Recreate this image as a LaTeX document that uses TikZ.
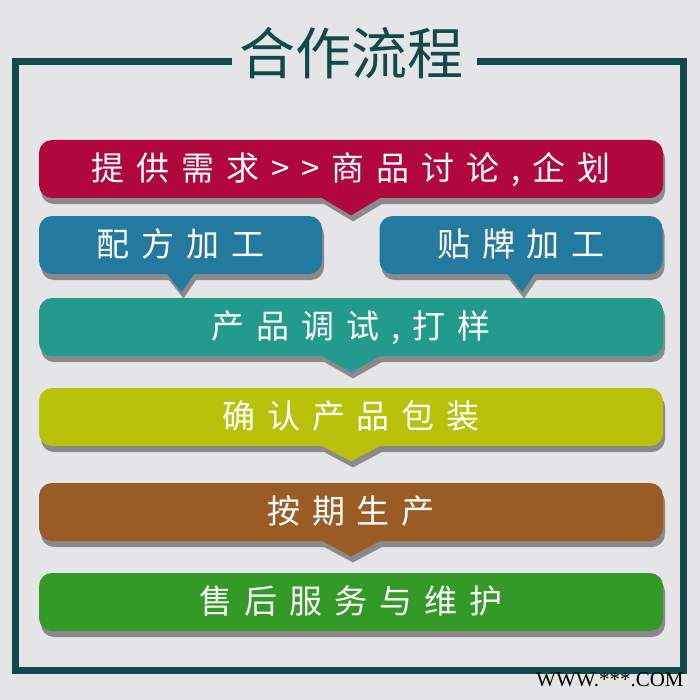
\documentclass[tikz,border=0pt]{standalone}
\usepackage{fontspec}
\setmainfont{Liberation Serif}
\newfontfamily\cjktitle{Noto Sans CJK SC}
\newfontfamily\cjkbox[LetterSpace=36]{Noto Sans CJK SC}
\usetikzlibrary{calc,shadows}
\definecolor{bgcol}{RGB}{229,229,231}
\definecolor{framecol}{RGB}{16,74,76}
\definecolor{shcol}{RGB}{138,138,140}
\definecolor{crimsoncol}{RGB}{176,8,62}
\definecolor{bluecol}{RGB}{36,122,158}
\definecolor{tealcol}{RGB}{34,155,140}
\definecolor{limecol}{RGB}{184,194,10}
\definecolor{browncol}{RGB}{154,91,37}
\definecolor{greencol}{RGB}{51,154,40}
\tikzset{
  shad/.style={drop shadow={shadow xshift=1pt,shadow yshift=-3pt,fill=shcol,opacity=1}},
  stepbox/.style={shad,rounded corners=6.5pt,inner sep=0pt,minimum height=29pt,
    text=white,font=\cjkbox\fontsize{16.5pt}{18pt}\selectfont,
    text height=1.14em,text depth=0pt},
  widebox/.style={stepbox,minimum width=312pt},
  halfbox/.style={stepbox,minimum width=141.5pt},
  framestyle/.style={draw=framecol,line width=3.5pt,line join=miter},
}
\begin{document}
\begin{tikzpicture}[x=0.5pt,y=-0.5pt]
\useasboundingbox (0,0) rectangle (700,700);
\fill[bgcol] (0,0) rectangle (700,700);
% title and frame
\node[text=framecol,font=\cjktitle\fontsize{28pt}{30pt}\selectfont,
  text height=1.14em,text depth=0pt,inner sep=0pt] (title) at (351,63) {合作流程};
\coordinate (fl) at (232,61.5);
\coordinate (fr) at (477,61.5);
\draw[framestyle] (fl) -- (15.5,61.5) -- (15.5,670) -- (683.5,670) -- (683.5,61.5) -- (fr);
% boxes
\node[widebox,fill=crimsoncol] (need) at (351,169) {提供需求>>商品讨论,企划};
\fill[crimsoncol,shad] ($(need.south)+(-30,-1)$) -- ($(need.south)+(30,-1)$) -- ($(need.south)+(0,17)$) -- cycle;
\node[halfbox,fill=bluecol] (formula) at (180.5,245) {配方加工};
\node[halfbox,fill=bluecol] (oem) at (521,245) {贴牌加工};
\fill[bluecol,shad] ($(formula.south)+(-14,-1)$) -- ($(formula.south)+(14,-1)$) -- ($(formula.south)+(1,18)$) -- cycle;
\fill[bluecol,shad] ($(oem.south)+(-14,-1)$) -- ($(oem.south)+(14,-1)$) -- ($(oem.south)+(1,18)$) -- cycle;
\node[widebox,fill=tealcol] (test) at (351,327) {产品调试,打样};
\fill[tealcol,shad] ($(test.south)+(-30,-1)$) -- ($(test.south)+(30,-1)$) -- ($(test.south)+(0,16)$) -- cycle;
\node[widebox,fill=limecol] (pack) at (351,417) {确认产品包装};
\fill[limecol,shad] ($(pack.south)+(-30,-1)$) -- ($(pack.south)+(30,-1)$) -- ($(pack.south)+(0,15)$) -- cycle;
\node[widebox,fill=browncol] (prod) at (351,512) {按期生产};
\fill[browncol,shad] ($(prod.south)+(-30,-1)$) -- ($(prod.south)+(30,-1)$) -- ($(prod.south)+(0,15)$) -- cycle;
\node[widebox,fill=greencol] (after) at (351,602) {售后服务与维护};
% watermark
\node[anchor=base east,inner sep=0pt,font=\fontsize{10.5pt}{12pt}\selectfont] (www) at (684,686) {WWW.***.COM};
\end{tikzpicture}
\end{document}
